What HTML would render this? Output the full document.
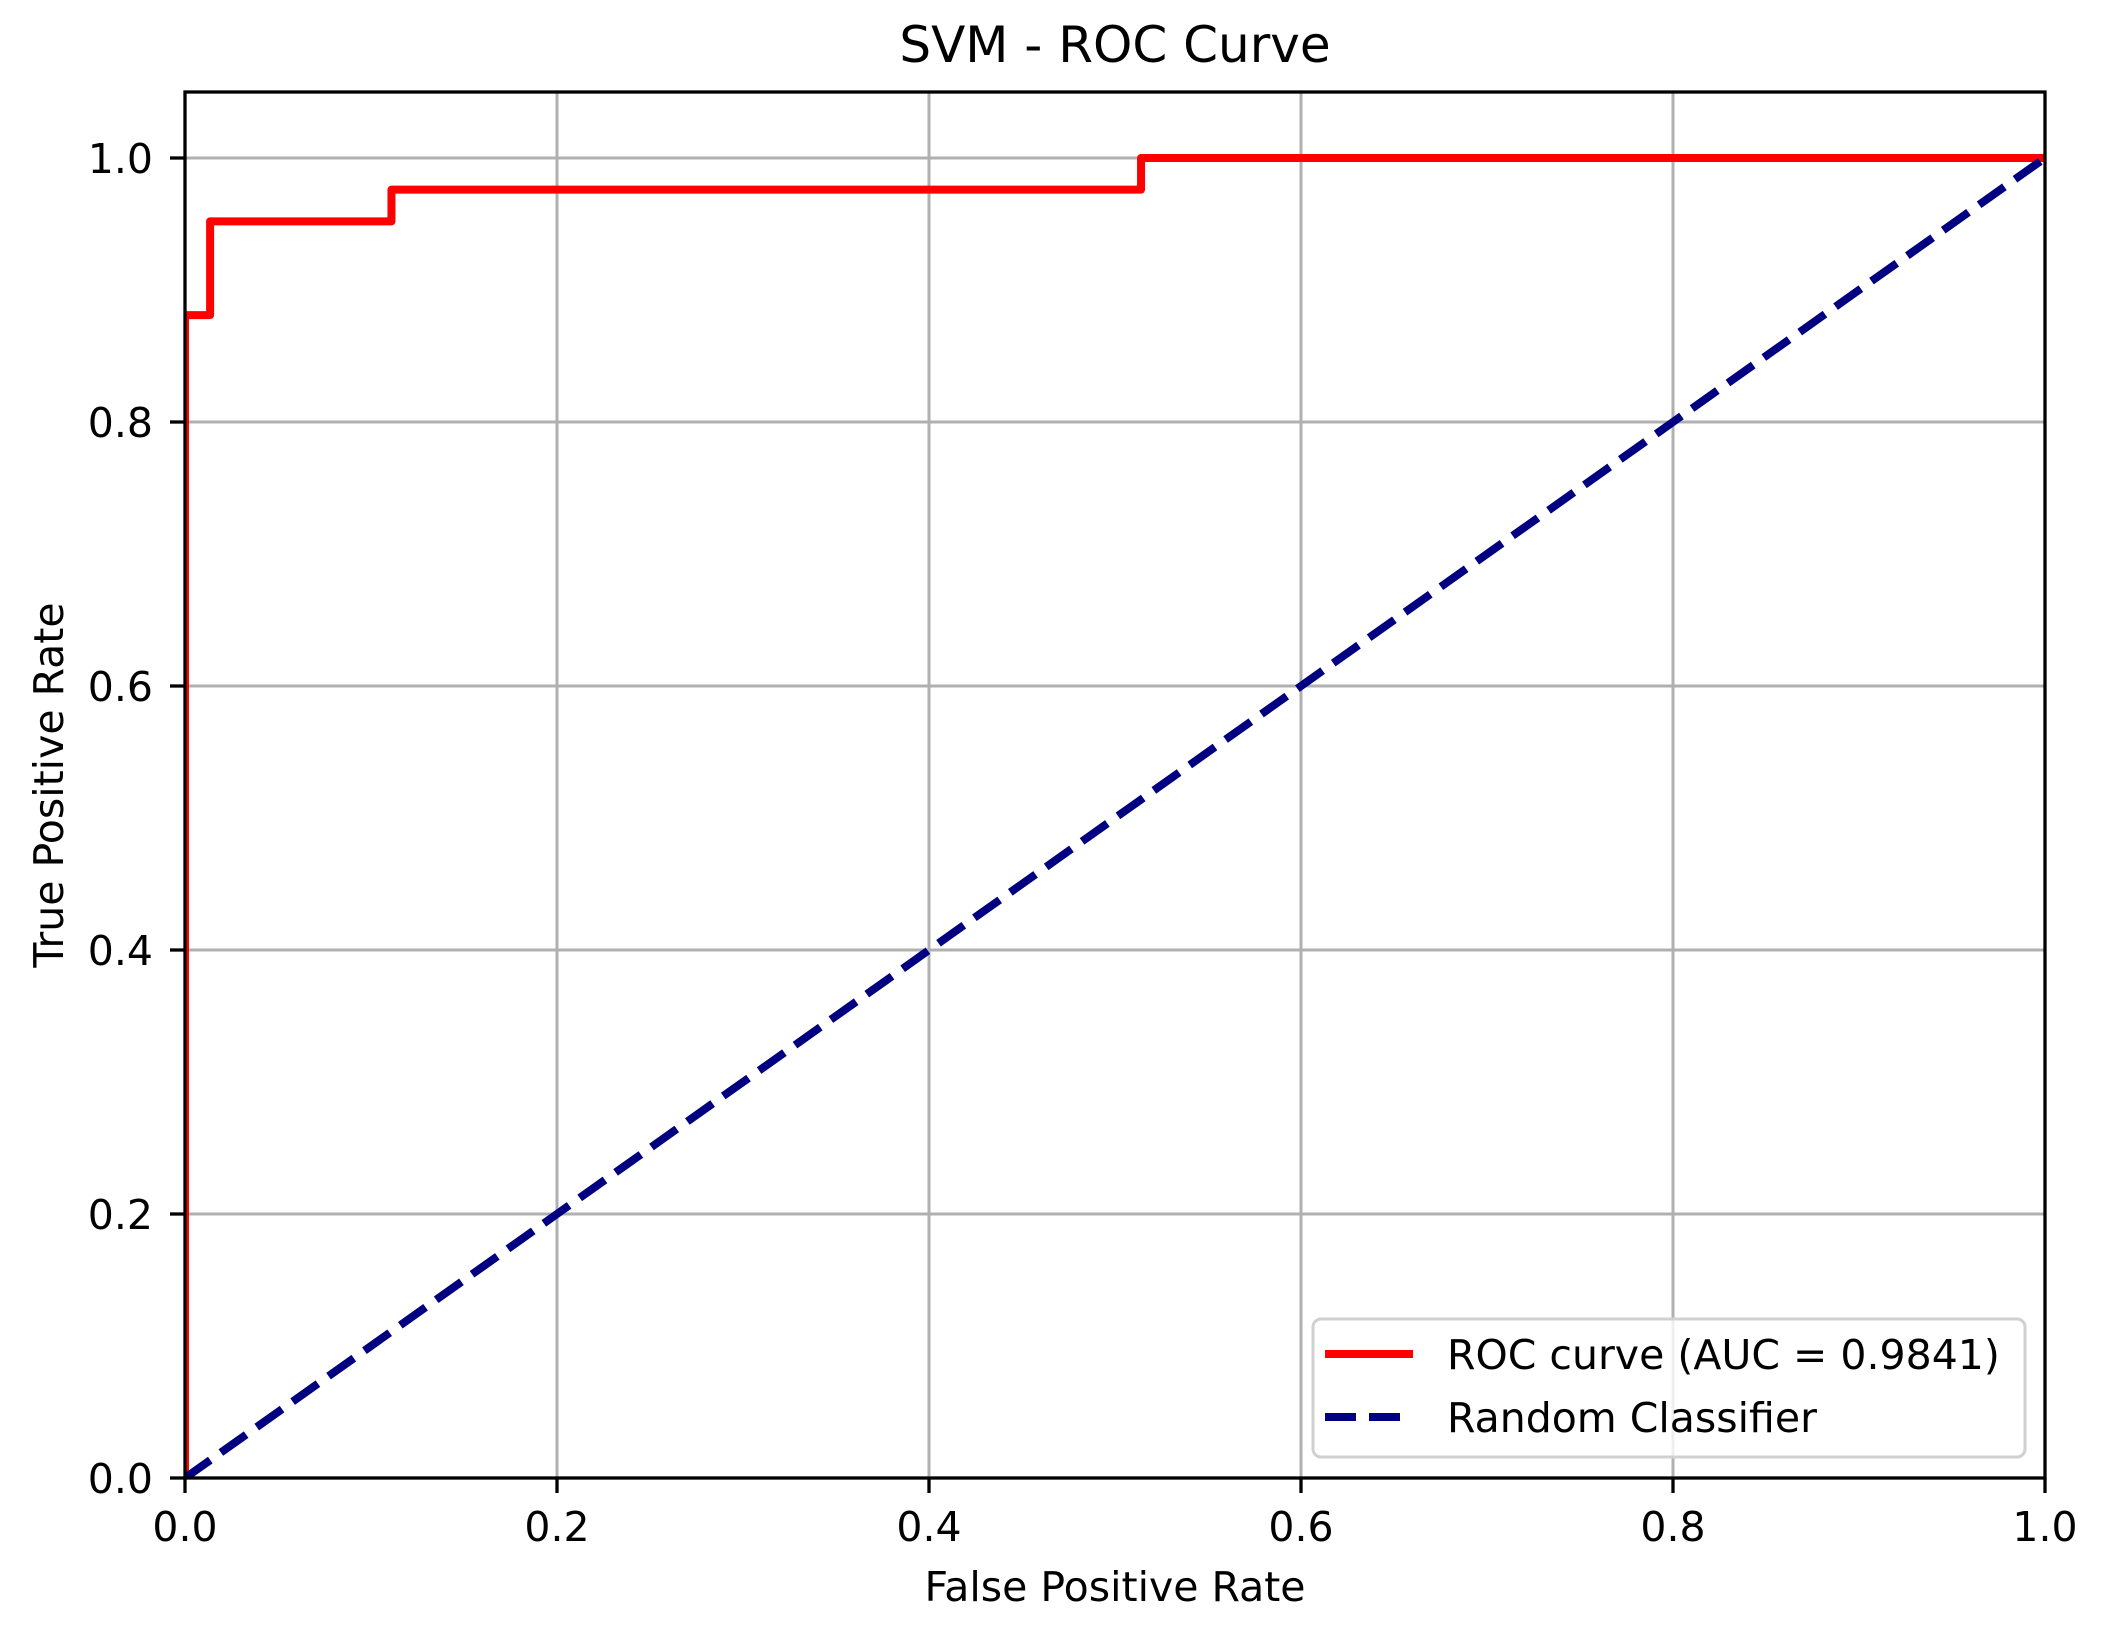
<!DOCTYPE html>
<html><head><meta charset="utf-8"><style>
body{margin:0;background:#fff}
svg{display:block;font-family:"DejaVu Sans","Liberation Sans",sans-serif}
</style></head><body>
<svg id="chart" width="2107" height="1638" viewBox="0 0 2107 1638" xmlns="http://www.w3.org/2000/svg">
<defs><clipPath id="plotclip"><rect x="185" y="92" width="1860" height="1386"/></clipPath></defs>
<rect width="2107" height="1638" fill="#fff"/>
<g id="grid"></g>
<g id="series" clip-path="url(#plotclip)"></g>
<g id="axes"></g>
<text x="1115" y="62" font-size="50" text-anchor="middle">SVM - ROC Curve</text>
<text x="1115" y="1601" font-size="41" text-anchor="middle">False Positive Rate</text>
<text transform="translate(63,785) rotate(-90)" font-size="41" text-anchor="middle">True Positive Rate</text>
<g>
<rect x="1313" y="1319" width="712" height="138" rx="8" fill="#fff" fill-opacity="0.8" stroke="#d0d0d0" stroke-width="3"/>
<line x1="1325" y1="1354" x2="1413" y2="1354" stroke="#ff0000" stroke-width="8"/>
<text x="1447" y="1369" font-size="41">ROC curve (AUC = 0.9841)</text>
<line x1="1325" y1="1417" x2="1413" y2="1417" stroke="#000080" stroke-width="8" stroke-dasharray="31,13"/>
<text x="1447" y="1432" font-size="41">Random Classifier</text>
</g>
</svg>
<script>
const fpr = [0, 0, 0.0135, 0.0135, 0.111, 0.111, 0.514, 0.514, 1.0];
const tpr = [0, 0.881, 0.881, 0.952, 0.952, 0.976, 0.976, 1.0, 1.0];
const diagX = [0, 1];
const diagY = [0, 1];
const xTicks = [0, 0.2, 0.4, 0.6, 0.8, 1.0];
const yTicks = [0, 0.2, 0.4, 0.6, 0.8, 1.0];
const xTickLabels = ["0.0","0.2","0.4","0.6","0.8","1.0"];
const yTickLabels = ["0.0","0.2","0.4","0.6","0.8","1.0"];

const L=185,R=2045,B=1478,T=92;
const sx=v=>L+v*(R-L);
const sy=v=>B-v/1.05*(B-T);
const NS="http://www.w3.org/2000/svg";
function mk(tag,attrs,parent){const e=document.createElementNS(NS,tag);for(const k in attrs)e.setAttribute(k,attrs[k]);parent.appendChild(e);return e;}
const grid=document.getElementById('grid'),series=document.getElementById('series'),axes=document.getElementById('axes');
xTicks.forEach((t,i)=>{
  const g=mk('line',{x1:sx(t),x2:sx(t),y1:T,y2:B,stroke:'#b0b0b0','stroke-width':3},grid);
  
  
  const tk=mk('line',{x1:sx(t),x2:sx(t),y1:B,y2:B+15,stroke:'#000','stroke-width':3.3},axes);
  
  
  const tx=mk('text',{x:sx(t),y:1541,'font-size':41,'text-anchor':'middle'},axes);
  tx.textContent=xTickLabels[i];
  
  
});
yTicks.forEach((t,i)=>{
  const g=mk('line',{x1:L,x2:R,y1:sy(t),y2:sy(t),stroke:'#b0b0b0','stroke-width':3},grid);
  
  
  const tk=mk('line',{x1:L-15,x2:L,y1:sy(t),y2:sy(t),stroke:'#000','stroke-width':3.3},axes);
  
  
  const tx=mk('text',{x:153,y:sy(t)+15,'font-size':41,'text-anchor':'end'},axes);
  tx.textContent=yTickLabels[i];
  
  
});
const roc=mk('polyline',{points:fpr.map((v,i)=>sx(v)+','+sy(tpr[i])).join(' '),fill:'none',stroke:'#ff0000','stroke-width':8,'stroke-linejoin':'round'},series);


const diag=mk('polyline',{points:diagX.map((v,i)=>sx(v)+','+sy(diagY[i])).join(' '),fill:'none',stroke:'#000080','stroke-width':8,'stroke-dasharray':'31,13'},series);


const frame=mk('rect',{x:L,y:T,width:R-L,height:B-T,fill:'none',stroke:'#000','stroke-width':3.3},axes);


</script>
</body></html>
